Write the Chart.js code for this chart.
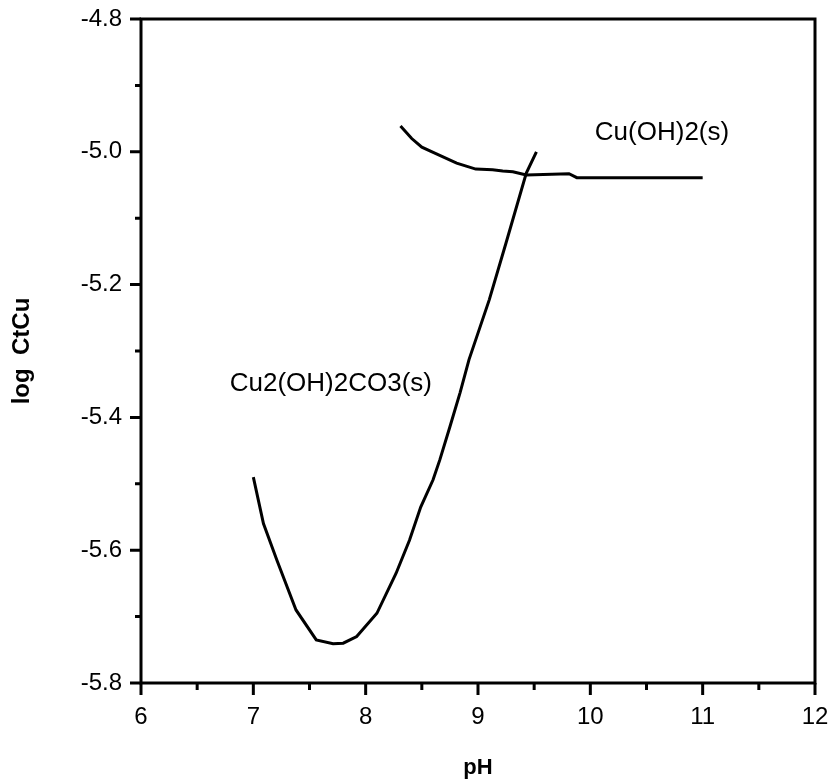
<!DOCTYPE html>
<html>
<head>
<meta charset="utf-8">
<script src="https://cdn.jsdelivr.net/npm/chart.js@4.4.1/dist/chart.umd.min.js"></script>
<style>
  html, body { margin: 0; padding: 0; background: #fff; }
  #wrap { width: 839px; height: 781px; }
</style>
</head>
<body>
<div id="wrap"><canvas id="myChart"></canvas></div>
<script>
// values
const phCarbonate = [7.0, 7.09, 7.21, 7.38, 7.56, 7.71, 7.80, 7.92, 8.10, 8.27, 8.39, 8.49, 8.60, 8.66, 8.75, 8.84, 8.92, 9.10, 9.25, 9.43, 9.52];
const logCarbonate = [-5.49, -5.56, -5.615, -5.69, -5.735, -5.741, -5.740, -5.730, -5.695, -5.635, -5.585, -5.535, -5.494, -5.464, -5.414, -5.363, -5.313, -5.223, -5.137, -5.032, -5.0];
const phHydroxide = [8.31, 8.41, 8.50, 8.63, 8.81, 8.98, 9.13, 9.22, 9.31, 9.43, 9.81, 9.88, 11.0];
const logHydroxide = [-4.961, -4.98, -4.993, -5.003, -5.017, -5.026, -5.027, -5.029, -5.030, -5.035, -5.033, -5.039, -5.039];
const curveLabels = ['Cu2(OH)2CO3(s)', 'Cu(OH)2(s)'];
const labelSpots = [{ x: 6.79, y: -5.35 }, { x: 10.04, y: -4.972 }];

const FONT = '"Liberation Sans", Arial, Helvetica, sans-serif';

function toPoints(xs, ys) {
    return xs.map((v, i) => ({ x: v, y: ys[i] }));
}

// box, tick marks and curve labels
const frame = {
    id: 'frame',
    afterDraw(chart) {
        const { ctx, chartArea: a, scales: { x, y } } = chart;
        ctx.save();
        ctx.strokeStyle = '#000';
        ctx.lineWidth = 3;
        ctx.strokeRect(a.left, a.top, a.right - a.left, a.bottom - a.top);
        ctx.beginPath();
        x.ticks.forEach(t => {
            const px = x.getPixelForValue(t.value);
            const len = Math.abs(t.value % 1) < 1e-6 ? 12 : 7;
            ctx.moveTo(px, a.bottom);
            ctx.lineTo(px, a.bottom + len);
        });
        y.ticks.forEach(t => {
            const py = y.getPixelForValue(t.value);
            const len = Math.round(t.value * 10) % 2 === 0 ? 11 : 6;
            ctx.moveTo(a.left, py);
            ctx.lineTo(a.left - len, py);
        });
        ctx.stroke();

        ctx.fillStyle = '#000';
        ctx.font = '26px ' + FONT;
        ctx.textAlign = 'left';
        ctx.textBaseline = 'middle';
        curveLabels.forEach((txt, i) => {
            ctx.fillText(txt, x.getPixelForValue(labelSpots[i].x), y.getPixelForValue(labelSpots[i].y));
        });
        ctx.restore();
    }
};

const ctx = document.getElementById('myChart');

new Chart(ctx, {
    type: 'scatter',
    data: {
        datasets: [{
            label: curveLabels[0],
            data: toPoints(phCarbonate, logCarbonate),
            showLine: true,
            borderColor: '#000',
            borderWidth: 3,
            pointRadius: 0,
            tension: 0
        }, {
            label: curveLabels[1],
            data: toPoints(phHydroxide, logHydroxide),
            showLine: true,
            borderColor: '#000',
            borderWidth: 3,
            pointRadius: 0,
            tension: 0
        }]
    },
    options: {
        responsive: true,
        maintainAspectRatio: false,
        animation: false,
        layout: {
            padding: { top: 19, right: 24, bottom: 0, left: 0 }
        },
        scales: {
            x: {
                type: 'linear',
                min: 6,
                max: 12,
                afterFit: s => { s.height = 98; s.paddingLeft = 0; s.paddingRight = 0; },
                grid: { display: false, drawTicks: false },
                border: { display: false },
                ticks: {
                    stepSize: 0.5,
                    autoSkip: false,
                    maxRotation: 0,
                    padding: 20,
                    color: '#000',
                    font: { family: FONT, size: 24 },
                    callback: v => Math.abs(v % 1) < 1e-6 ? String(v) : ''
                },
                title: {
                    display: true,
                    text: 'pH',
                    color: '#000',
                    padding: 0,
                    font: { family: FONT, size: 22, weight: 'bold' }
                }
            },
            y: {
                type: 'linear',
                min: -5.8,
                max: -4.8,
                afterFit: s => { s.width = 141; s.paddingTop = 0; s.paddingBottom = 0; },
                grid: { display: false, drawTicks: false },
                border: { display: false },
                ticks: {
                    stepSize: 0.1,
                    autoSkip: false,
                    padding: 19,
                    color: '#000',
                    font: { family: FONT, size: 24 },
                    callback: v => Math.round(v * 10) % 2 === 0 ? v.toFixed(1) : ''
                },
                title: {
                    display: true,
                    text: 'log  CtCu',
                    color: '#000',
                    padding: { top: 8, bottom: 0 },
                    font: { family: FONT, size: 24, weight: 'bold' }
                }
            }
        },
        plugins: {
            legend: { display: false },
            tooltip: { enabled: false }
        }
    },
    plugins: [frame]
});
</script>
</body>
</html>
